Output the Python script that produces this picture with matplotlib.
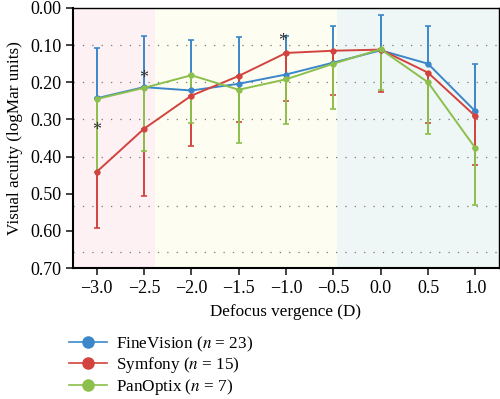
import matplotlib
matplotlib.use("Agg")
import matplotlib.pyplot as plt
import numpy as np

plt.rcParams['font.family'] = ['Liberation Serif', 'DejaVu Serif']
plt.rcParams['mathtext.fontset'] = 'stix'

vergence = [-3.0, -2.5, -2.0, -1.5, -1.0, -0.5, 0.0, 0.5, 1.0]

finevision = [0.243, 0.213, 0.222, 0.204, 0.179, 0.147, 0.114, 0.150, 0.278]
finevision_sd = [0.135, 0.138, 0.137, 0.125, 0.103, 0.099, 0.095, 0.101, 0.128]  # upward bars

symfony = [0.441, 0.325, 0.236, 0.183, 0.121, 0.115, 0.112, 0.174, 0.291]
symfony_sd = [0.152, 0.181, 0.136, 0.124, 0.129, 0.119, 0.115, 0.135, 0.131]  # downward bars

panoptix = [0.245, 0.215, 0.181, 0.220, 0.192, 0.150, 0.111, 0.200, 0.377]
panoptix_sd = [0.195, 0.171, 0.128, 0.142, 0.119, 0.123, 0.109, 0.139, 0.153]  # downward bars

labels = ["FineVision ($n$ = 23)", "Symfony ($n$ = 15)", "PanOptix ($n$ = 7)"]
colors = ["#3b87c9", "#d2433f", "#8cbf4b"]

yticks = [0.0, 0.1, 0.2, 0.3, 0.4, 0.5, 0.6, 0.7]
xticks = [-3.0, -2.5, -2.0, -1.5, -1.0, -0.5, 0.0, 0.5, 1.0]

asterisks = [(-3.0, 0.33), (-2.5, 0.19), (-1.04, 0.09)]

fig = plt.figure(figsize=(5.0, 3.99), dpi=100)
ax = fig.add_axes([0.146, 0.328, 0.852, 0.652])

ax.axvspan(-3.25, -2.385, color="#fdf1f3", zorder=0, lw=0)
ax.axvspan(-2.385, -0.465, color="#fefdf1", zorder=0, lw=0)
ax.axvspan(-0.465, 1.25, color="#eff6f6", zorder=0, lw=0)

for g in [0.1, 0.2, 0.3, 0.4, 0.533, 0.656]:
    ax.axhline(g, color="#777777", lw=0.9, ls=(0, (1, 6.5)), zorder=1)

x = np.array(vergence)
zeros = np.zeros(len(x))

series = [
    (finevision, [finevision_sd, zeros]),
    (symfony, [zeros, symfony_sd]),
    (panoptix, [zeros, panoptix_sd]),
]
for (vals, err), c, lab in zip(series, colors, labels):
    ax.errorbar(x, vals, yerr=err, color=c, lw=1.4, marker="o", ms=3.5,
                capsize=2, capthick=1.2, elinewidth=1.4, zorder=3)
    ax.plot([], [], color=c, lw=1.2, marker="o", ms=8, label=lab)

for ax_x, ax_y in asterisks:
    ax.text(ax_x, ax_y, "*", ha="center", va="center", fontsize=13, color="#333333", zorder=5)

ax.set_xlim(-3.25, 1.25)
ax.set_ylim(0.7, 0.0)
ax.set_yticks(yticks)
ax.set_yticklabels([f"{v:.2f}" for v in yticks])
ax.set_xticks(xticks)
ax.set_xticklabels([f"{v:.1f}".replace("-", "\u2212") for v in xticks])
ax.tick_params(axis="both", labelsize=13, length=5, width=1.2, direction="out", color="#222222")
ax.set_xlabel("Defocus vergence (D)", fontsize=12.3, labelpad=5)
ax.set_ylabel("Visual acuity (logMar units)", fontsize=12.3, labelpad=5)

for s in ["left", "bottom"]:
    ax.spines[s].set_linewidth(1.5)
for s in ["top", "right"]:
    ax.spines[s].set_linewidth(1.0)

fig.legend(loc="upper left", bbox_to_anchor=(0.125, 0.178), frameon=False,
           fontsize=12.3, handlelength=2.2, labelspacing=0.08, handletextpad=0.55,
           borderaxespad=0)

fig.savefig("out.png", dpi=100)
